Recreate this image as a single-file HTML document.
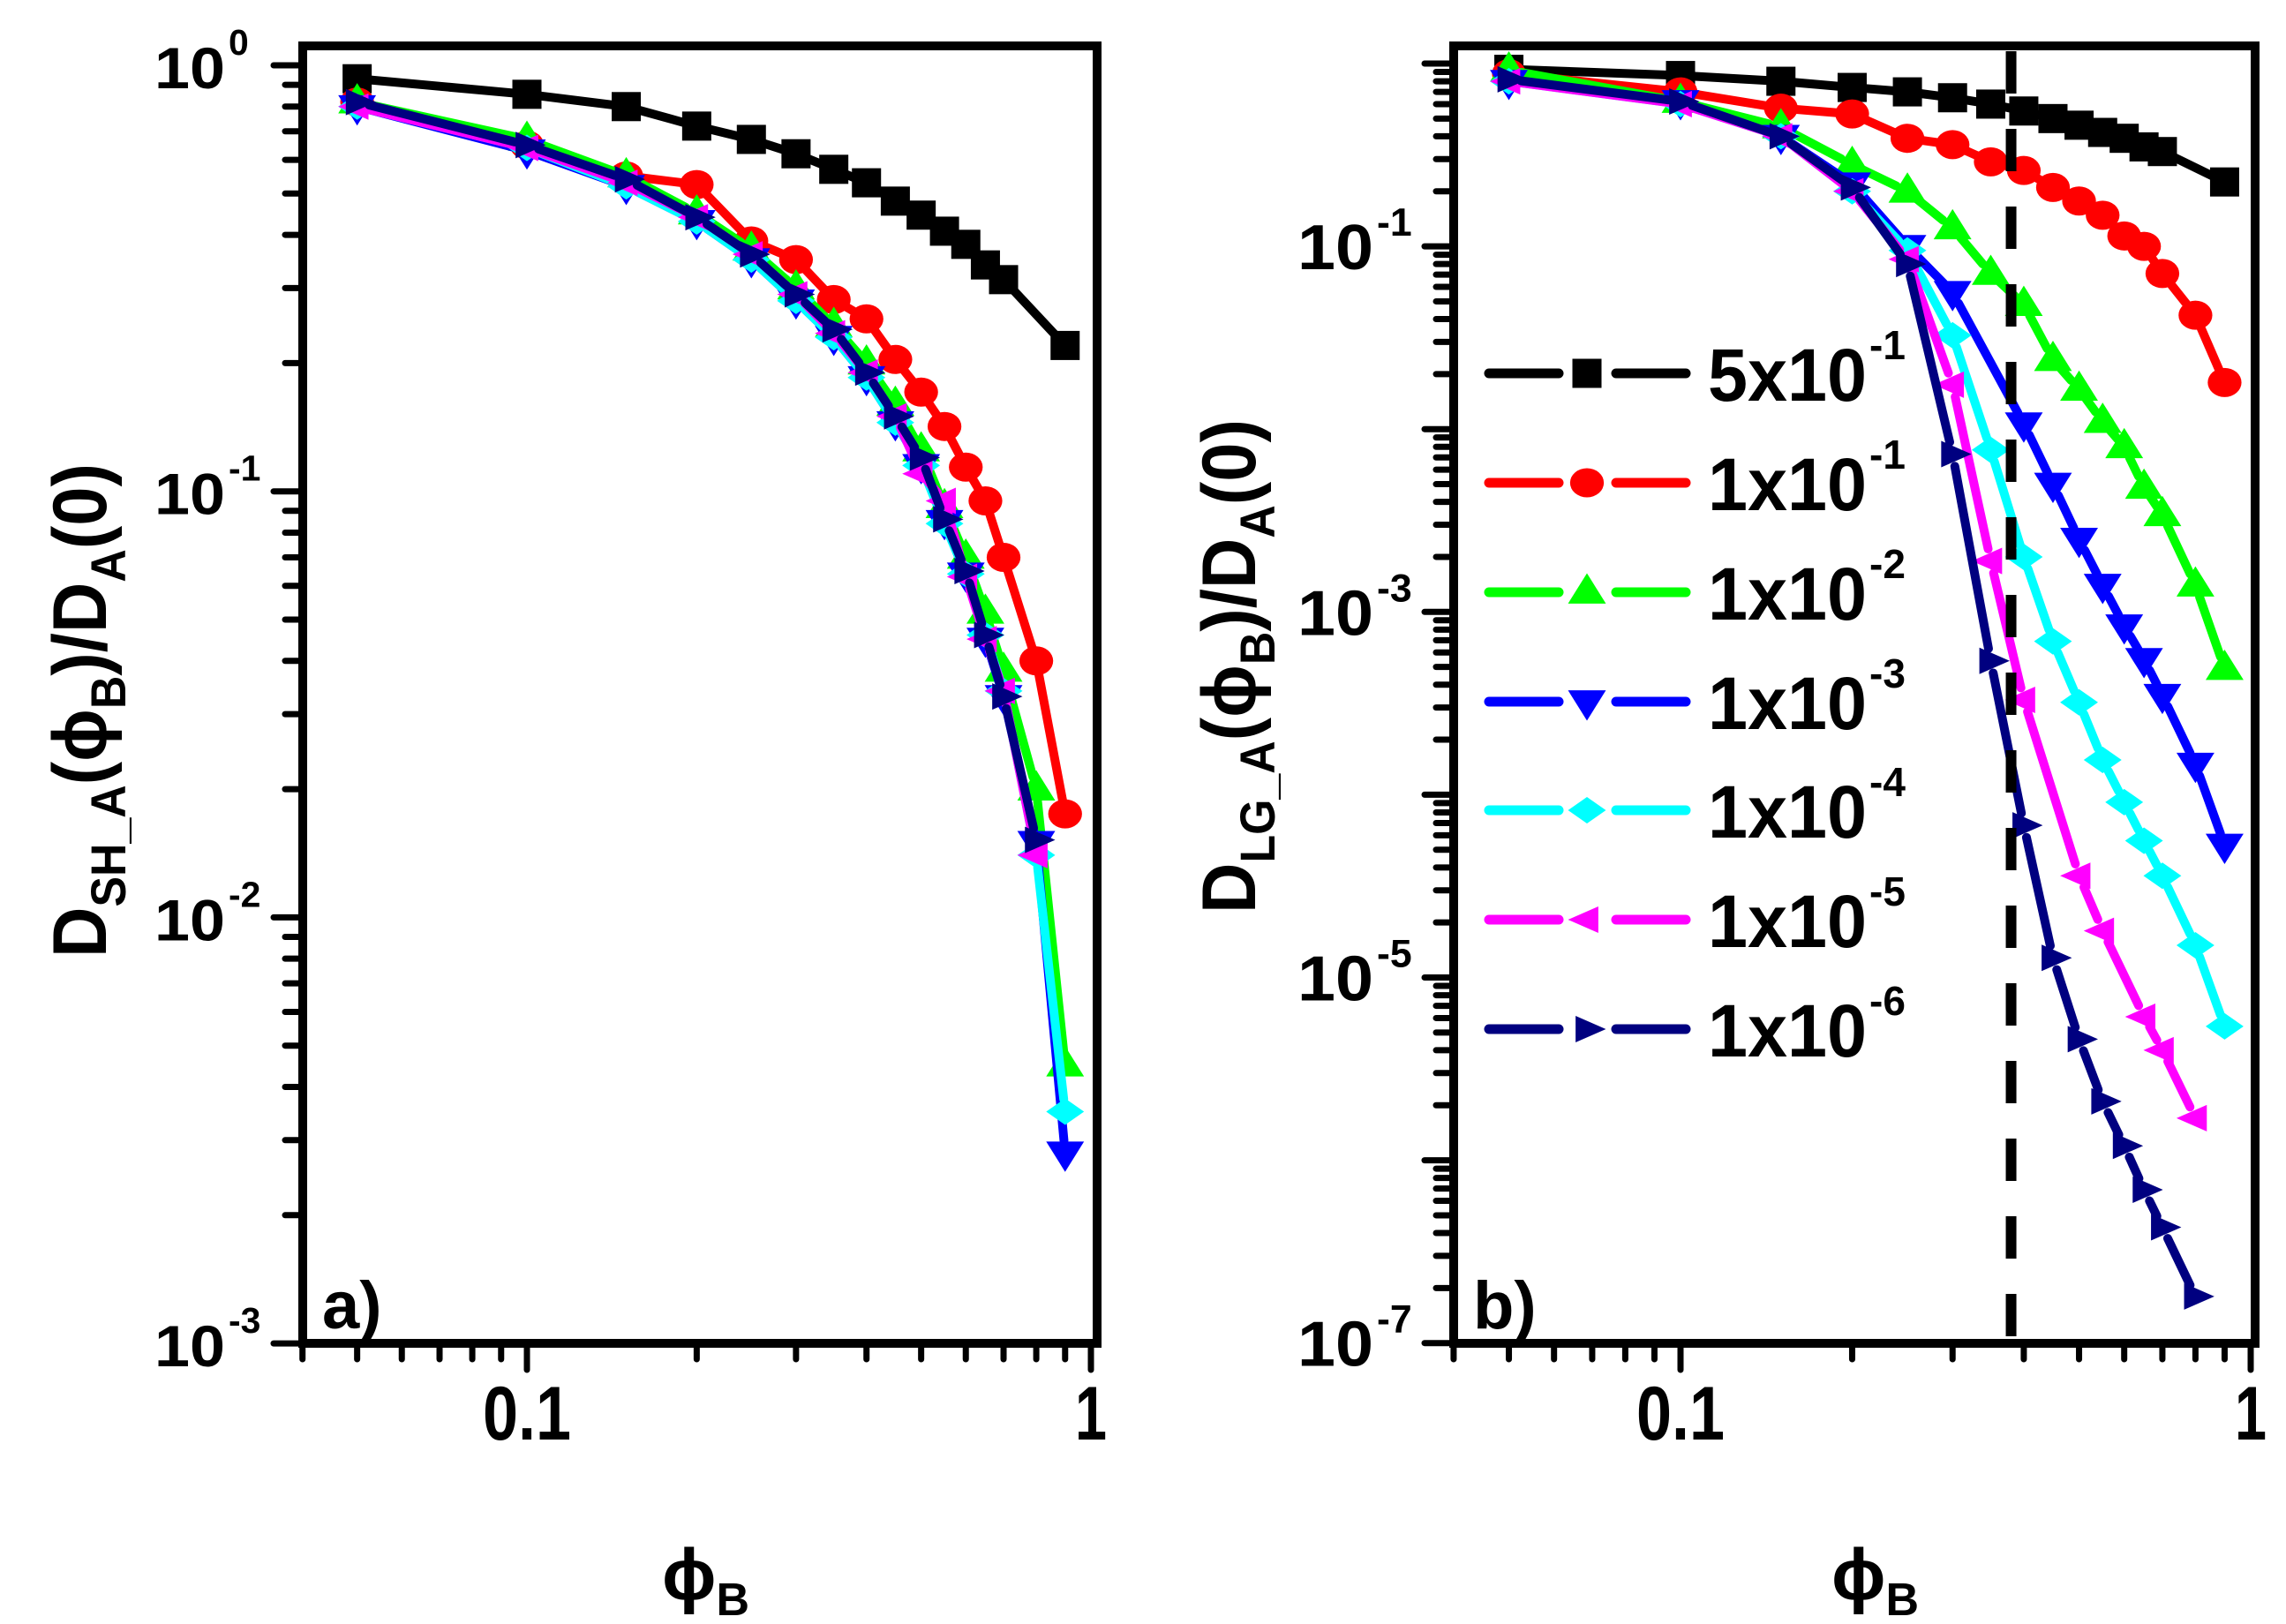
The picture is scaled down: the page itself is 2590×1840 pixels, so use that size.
<!DOCTYPE html>
<html><head><meta charset="utf-8"><style>
html,body{margin:0;padding:0;background:#fff;}
svg{display:block;font-family:"Liberation Sans",Arial,sans-serif;font-weight:bold;}
</style></head><body>
<svg id="fig" width="2590" height="1840" viewBox="0 0 2590 1840" xmlns="http://www.w3.org/2000/svg">
<rect x="0" y="0" width="2590" height="1840" fill="#fff"/>
<g id="panelA"></g>
<g id="panelB"></g>
</svg>
<script>
// ---- data ----
const XS = [0.05,0.1,0.15,0.2,0.25,0.3,0.35,0.4,0.45,0.5,0.55,0.6,0.65,0.7,0.8,0.9];
const seriesLabels = ["5x10","1x10","1x10","1x10","1x10","1x10","1x10"];
const seriesExps = ["-1","-1","-2","-3","-4","-5","-6"];
const seriesColors = ["#000000","#ff0000","#00ff00","#0000ff","#00ffff","#ff00ff","#000080"];
const seriesMarkers = ["square","circle","up","down","diamond","left","right"];

const aBlack   = [0.93,0.855,0.80,0.72,0.67,0.62,0.57,0.53,0.48,0.445,0.408,0.38,0.34,0.314,null,0.22];
const aRed     = [0.82,0.65,0.55,0.525,0.387,0.35,0.282,0.254,0.204,0.171,0.142,0.114,0.095,0.07,0.04,0.0175];
const aGreen   = [0.82,0.67,0.55,0.45,0.37,0.30,0.245,0.2,0.16,0.125,0.092,0.07,0.052,0.038,0.02,0.0045];
const aBlue    = [0.80,0.63,0.52,0.43,0.35,0.28,0.23,0.185,0.145,0.115,0.085,0.064,0.045,0.033,0.015,0.0028];
const aCyan    = [0.80,0.64,0.52,0.43,0.35,0.28,0.23,0.185,0.145,0.115,0.084,0.064,0.046,0.034,0.014,0.0035];
const aMagenta = [0.80,0.64,0.53,0.44,0.36,0.29,0.235,0.19,0.15,0.11,0.095,0.063,0.045,0.034,0.014,null];
const aNavy    = [0.82,0.65,0.54,0.44,0.36,0.29,0.24,0.19,0.15,0.12,0.086,0.065,0.046,0.033,0.0152,null];

const bBlack   = [0.93,0.86,0.80,0.74,0.70,0.65,0.60,0.55,0.50,0.46,0.42,0.39,0.35,0.33,null,0.225];
const bRed     = [0.88,0.70,0.57,0.53,0.39,0.36,0.29,0.26,0.21,0.177,0.148,0.114,0.10,0.071,0.042,0.018];
const bGreen   = [0.92,0.62,0.45,0.28,0.2,0.126,0.071,0.048,0.024,0.0165,0.011,0.008,0.0048,0.0034,0.0014,0.00049];
const bBlue    = [0.80,0.62,0.40,0.22,0.10,0.056,null,0.0107,0.005,0.0025,0.0014,0.00084,0.00055,0.00035,0.000147,0.000053];
const bCyan    = [0.80,0.60,0.40,0.20,0.095,0.0326,0.0077,0.002,0.00069,0.00032,0.000155,0.000091,0.000056,0.000036,0.000015,0.0000054];
const bMagenta = [0.80,0.60,0.40,0.20,0.085,0.0175,0.0019,0.00033,null,0.000036,0.000018,null,0.0000061,0.000004,0.0000017,null];
const bNavy    = [0.82,0.62,0.40,0.21,0.08,0.0073,0.00054,0.000068,0.0000128,0.0000046,0.0000021,0.0000012,0.00000069,0.00000043,0.00000018,null];

const aSeries = [aBlack,aRed,aGreen,aBlue,aCyan,aMagenta,aNavy];
const bSeries = [bBlack,bRed,bGreen,bBlue,bCyan,bMagenta,bNavy];
const aYTicks = [0,-1,-2,-3];
const bYTicks = [0,-1,-2,-3,-4,-5,-6,-7];
const bYLabelExps = [-1,-3,-5,-7];
const xTickLabels = ["0.1","1"];
const thresholdX = 0.38;

const NS = "http://www.w3.org/2000/svg";
function mk(tag, attrs, parent){
  const e = document.createElementNS(NS, tag);
  for (const k in attrs) e.setAttribute(k, attrs[k]);
  parent.appendChild(e);
  return e;
}

function axes(cfg){
  return {
    X: v => cfg.x01 + (Math.log10(v) + 1) * cfg.xdec,
    Y: v => cfg.y0 - Math.log10(v) * cfg.ydec
  };
}

function marker(g, type, cx, cy, color, s){
  let e;
  if (type === "square") {
    e = mk("rect", {x: cx - s*0.5, y: cy - s*0.5, width: s, height: s, fill: color}, g);
  } else if (type === "circle") {
    e = mk("ellipse", {cx: cx, cy: cy, rx: s*0.58, ry: s*0.5, fill: color}, g);
  } else {
    const r = s*0.65;
    let pts;
    if (type === "up") pts = [[cx, cy-r],[cx+r, cy+r*0.6],[cx-r, cy+r*0.6]];
    else if (type === "down") pts = [[cx-r, cy-r*0.6],[cx+r, cy-r*0.6],[cx, cy+r]];
    else if (type === "diamond") pts = [[cx, cy-r*0.7],[cx+r, cy],[cx, cy+r*0.7],[cx-r, cy]];
    else if (type === "left") pts = [[cx-r, cy],[cx+r*0.6, cy-r*0.7],[cx+r*0.6, cy+r*0.7]];
    else pts = [[cx+r, cy],[cx-r*0.6, cy-r*0.7],[cx-r*0.6, cy+r*0.7]];
    e = mk("polygon", {points: pts.map(p => p.join(",")).join(" "), fill: color}, g);
  }
  return e;
}

function buildPanel(g, cfg, series, yTicks, yLabelExps, panelLabel, titleMain){
  const ax = axes(cfg);
  series.forEach((vals, si) => {
    const sg = mk("g", {}, g);
    
    
    const pts = [];
    vals.forEach((v, i) => { if (v !== null) pts.push([ax.X(XS[i]), ax.Y(v)]); });
    for (let i = 0; i + 1 < pts.length; i++) {
      const [x1,y1] = pts[i], [x2,y2] = pts[i+1];
      const d = Math.hypot(x2-x1, y2-y1);
      const gap = Math.min(14, d*0.3);
      const ux = (x2-x1)/d, uy = (y2-y1)/d;
      const ln = mk("line", {x1: x1+ux*gap, y1: y1+uy*gap, x2: x2-ux*gap, y2: y2-uy*gap,
        stroke: seriesColors[si], "stroke-width": 10, "stroke-linecap": "round"}, sg);
      
      
    }
    pts.forEach(p => {
      const m = marker(sg, seriesMarkers[si], p[0], p[1], seriesColors[si], 33);
      
      
    });
  });
  const fr = mk("rect", {x: cfg.left, y: cfg.top, width: cfg.right-cfg.left, height: cfg.bottom-cfg.top,
    fill: "none", stroke: "#000", "stroke-width": 10}, g);
  
  
  const xt = mk("g", {stroke: "#000", "stroke-width": 7, "stroke-linecap": "round"}, g);
  
  
  const xtv = [0.04,0.05,0.06,0.07,0.08,0.09,0.1,0.2,0.3,0.4,0.5,0.6,0.7,0.8,0.9,1];
  xtv.forEach(v => {
    const major = (v === 0.1 || v === 1);
    const x = ax.X(v);
    mk("line", {x1: x, y1: cfg.bottom, x2: x, y2: cfg.bottom + (major ? 30 : 18)}, xt);
  });
  [0.1, 1].forEach((v, i) => {
    const t = mk("text", {x: ax.X(v), y: 1631, "font-size": 86, "text-anchor": "middle",
      textLength: xTickLabels[i].length > 1 ? 100 : 36, lengthAdjust: "spacingAndGlyphs"}, g);
    t.textContent = xTickLabels[i];
    
    
  });
  const yt = mk("g", {stroke: "#000", "stroke-width": 7, "stroke-linecap": "round"}, g);
  
  
  yTicks.forEach((e, ii) => {
    const y = cfg.y0 - e * cfg.ydec;
    mk("line", {x1: cfg.left - 33, y1: y, x2: cfg.left, y2: y}, yt);
    if (ii < yTicks.length - 1) {
      for (let m = 2; m <= 9; m++) {
        const v = Math.pow(10, e - 1) * m;
        const yy = ax.Y(v);
        mk("line", {x1: cfg.left - 20, y1: yy, x2: cfg.left, y2: yy}, yt);
      }
    }
  });
  for (let m = 2; m <= 9; m++) {
    const yy = ax.Y(m);
    if (yy > cfg.top) mk("line", {x1: cfg.left - 20, y1: yy, x2: cfg.left, y2: yy}, yt);
  }
  yLabelExps.forEach(e => {
    const y = cfg.y0 - e * cfg.ydec;
    const t = mk("text", {x: cfg.lblRight - cfg.supW, y: y + 26, "font-size": cfg.lblFont, "text-anchor": "end",
      textLength: cfg.lblW, lengthAdjust: "spacingAndGlyphs"}, g);
    t.textContent = "10";
    
    
    const s = mk("text", {x: cfg.lblRight - cfg.supW + 4, y: y - 12, "font-size": cfg.lblFont*0.62, "text-anchor": "start"}, g);
    s.textContent = e === 0 ? "0" : "-" + Math.abs(e);
    
    
  });
  const pl = mk("text", {x: cfg.left + 22, y: 1505, "font-size": 76}, g);
  pl.textContent = panelLabel;
  
  
  const xtl = mk("text", {x: cfg.xTitleX, y: 1812, "font-size": 82}, g);
  
  
  const p1 = mk("tspan", {}, xtl); p1.textContent = "\u03d5";
  const p2 = mk("tspan", {dy: 18, "font-size": 52}, xtl); p2.textContent = "B";
  const ytl = mk("text", {x: 0, y: 0, "font-size": 86, "text-anchor": "middle",
    transform: "translate(" + cfg.yTitleX + "," + cfg.yTitleY + ") rotate(-90)",
    textLength: 560, lengthAdjust: "spacingAndGlyphs"}, g);
  
  
  const parts = [["D",0,86],[titleMain,22,56],["(\u03d5",-22,86],["B",22,56],[")/D",-22,86],["A",22,56],["(0)",-22,86]];
  parts.forEach(p => { const ts = mk("tspan", {dy: p[1], "font-size": p[2]}, ytl); ts.textContent = p[0]; });
  return ax;
}

const gA = document.getElementById("panelA");
const gB = document.getElementById("panelB");
const cfgA = {left: 343, right: 1243, top: 52, bottom: 1522, x01: 597, xdec: 639, y0: 74, ydec: 482.7,
  lblRight: 295, supW: 40, lblFont: 66, lblW: 80, xTitleX: 750, yTitleX: 120, yTitleY: 805};
const cfgB = {left: 1647, right: 2555, top: 52, bottom: 1522, x01: 1904, xdec: 646, y0: 72, ydec: 207.1,
  lblRight: 1600, supW: 44, lblFont: 72, lblW: 86, xTitleX: 2075, yTitleX: 1422, yTitleY: 755};

buildPanel(gA, cfgA, aSeries, aYTicks, aYTicks, "a)", "SH_A");
const axB = buildPanel(gB, cfgB, bSeries, bYTicks, bYLabelExps, "b)", "LG_A");

const dl = mk("line", {x1: axB.X(thresholdX), y1: 58, x2: axB.X(thresholdX), y2: 1517, stroke: "#000",
  "stroke-width": 12, "stroke-dasharray": "48 40"}, gB);



const lg = mk("g", {}, gB);


const legendRows = [423,547,671,795,918,1042,1166];
seriesLabels.forEach((lab, i) => {
  const y = legendRows[i];
  const eg = mk("g", {}, lg);
  
  
  mk("line", {x1: 1687, y1: y, x2: 1766, y2: y, stroke: seriesColors[i], "stroke-width": 11, "stroke-linecap": "round"}, eg);
  mk("line", {x1: 1831, y1: y, x2: 1910, y2: y, stroke: seriesColors[i], "stroke-width": 11, "stroke-linecap": "round"}, eg);
  marker(eg, seriesMarkers[i], 1798, y, seriesColors[i], 33);
  const t = mk("text", {x: 1935, y: y + 31, "font-size": 84, textLength: 180, lengthAdjust: "spacingAndGlyphs"}, eg);
  t.textContent = lab;
  const s = mk("text", {x: 2118, y: y - 16, "font-size": 46}, eg);
  s.textContent = seriesExps[i];
});
</script>
</body></html>
